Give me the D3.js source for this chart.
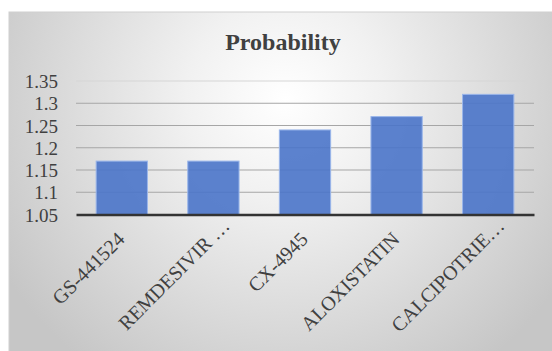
<!DOCTYPE html>
<html>
<head>
<meta charset="utf-8">
<script src="https://cdn.jsdelivr.net/npm/d3@7"></script>
<style>
  html, body { margin: 0; padding: 0; background: #ffffff; }
  svg { display: block; }
</style>
</head>
<body>
<svg id="chart" width="552" height="351"></svg>
<script>
// Compound names and their probability scores
const categories = ["GS-441524", "REMDESIVIR …", "CX-4945", "ALOXISTATIN", "CALCIPOTRIE…"];
const probability = [1.17, 1.17, 1.24, 1.27, 1.32];
const yTicks = [1.05, 1.1, 1.15, 1.2, 1.25, 1.3, 1.35];
const chartTitle = "Probability";

const svg = d3.select("#chart");
const W = 552, H = 351;

// Soft radial background of the chart area
const defs = svg.append("defs");
const grad = defs.append("radialGradient")
  .attr("id", "bg")
  .attr("gradientUnits", "userSpaceOnUse")
  .attr("cx", 285).attr("cy", 100).attr("r", 330);
grad.append("stop").attr("offset", "0%").attr("stop-color", "#ffffff");
grad.append("stop").attr("offset", "30%").attr("stop-color", "#f1f1f1");
grad.append("stop").attr("offset", "100%").attr("stop-color", "#c6c6c6");

svg.append("rect")
  .attr("x", 9).attr("y", 12)
  .attr("width", W - 9 + 2).attr("height", H - 12 + 2)
  .attr("fill", "url(#bg)")
  .attr("stroke", "#d0d0d0").attr("stroke-width", 1);

const plot = { left: 76, right: 534, top: 81, bottom: 214.5 };

const x = d3.scaleBand()
  .domain(categories)
  .range([plot.left, plot.right])
  .paddingInner(0.44)
  .paddingOuter(0.22);

const y = d3.scaleLinear()
  .domain([1.05, 1.35])
  .range([plot.bottom, plot.top]);

// Horizontal gridlines
svg.append("g")
  .selectAll("line")
  .data(yTicks.slice(1))
  .join("line")
  .attr("x1", plot.left).attr("x2", plot.right)
  .attr("y1", d => y(d)).attr("y2", d => y(d))
  .attr("stroke", d => d === 1.35 ? "#d6d6d6" : "#a6a6a6")
  .attr("stroke-width", 1.2);

// Bars (slightly translucent so the gridlines show through)
svg.append("g")
  .selectAll("rect")
  .data(categories.map((c, i) => ({ c, v: probability[i] })))
  .join("rect")
  .attr("x", d => x(d.c))
  .attr("width", x.bandwidth())
  .attr("y", d => y(d.v))
  .attr("height", d => y(1.05) - y(d.v))
  .attr("fill", "#4a74c9")
  .attr("fill-opacity", 0.9)
  .attr("stroke", "#9ab6ea")
  .attr("stroke-width", 1);

// Baseline axis
const xAxis = d3.axisBottom(x).tickSize(0).tickFormat("");
const gx = svg.append("g")
  .attr("transform", `translate(0,${plot.bottom})`)
  .call(xAxis);
gx.select(".domain").attr("stroke", "#333333").attr("stroke-width", 2.5);

// Value axis labels
const yAxis = d3.axisLeft(y).tickValues(yTicks).tickSize(0).tickPadding(18)
  .tickFormat(d => String(+d.toFixed(2)));
const gy = svg.append("g")
  .attr("transform", `translate(${plot.left},0)`)
  .call(yAxis);
gy.select(".domain").remove();
gy.selectAll("text")
  .attr("font-family", "'Liberation Serif', 'Times New Roman', serif")
  .attr("font-size", 19)
  .attr("fill", "#404040")
  .attr("dy", "0.35em");

// Rotated category labels; truncated names keep the full label slot,
// so their visible text ends further along the slant
gx.selectAll(".tick text")
  .data(categories)
  .text(d => d)
  .attr("font-family", "'Liberation Serif', 'Times New Roman', serif")
  .attr("font-size", 20)
  .attr("fill", "#404040")
  .attr("text-anchor", "end")
  .attr("dy", 0)
  .attr("y", 0)
  .attr("x", d => d.endsWith("…") ? 19 : 0)
  .attr("transform", "translate(4,26) rotate(-45)");

// Title
svg.append("text")
  .attr("x", 283).attr("y", 50)
  .attr("text-anchor", "middle")
  .attr("font-family", "'Liberation Serif', 'Times New Roman', serif")
  .attr("font-weight", "bold")
  .attr("font-size", 24)
  .attr("fill", "#404040")
  .text(chartTitle);
</script>
</body>
</html>
